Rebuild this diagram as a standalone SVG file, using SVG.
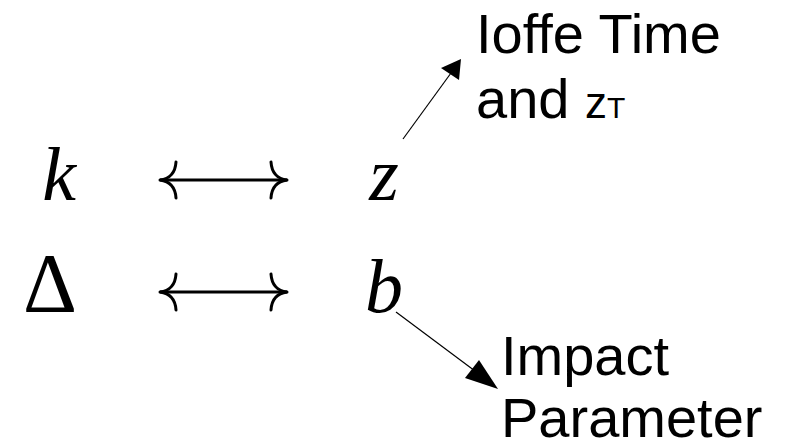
<svg xmlns="http://www.w3.org/2000/svg" width="790" height="442" viewBox="0 0 790 442">
  <style>
    .math { font-family: "Liberation Serif", "DejaVu Serif", serif; font-style: italic; font-size: 76px; fill: #000; }
    .upright { font-family: "Liberation Serif", "DejaVu Serif", serif; font-size: 84px; fill: #000; }
    .label { font-family: "Liberation Sans", Arial, sans-serif; font-size: 56px; fill: #000; }
    .dbl { fill: none; stroke: #000; stroke-width: 3; stroke-linecap: round; }
    .pointer { fill: none; stroke: #000; stroke-width: 1.2; }
    .head { fill: #000; stroke: none; }
  </style>
  <defs>
    <!-- long double-headed arrow with curved barbs -->
    <g id="longarrow">
      <path class="dbl" d="M160,0 H287"/>
      <path class="dbl" d="M176,-18 Q175,-2 160,0 Q175,2 176,18"/>
      <path class="dbl" d="M271,-18 Q272,-2 287,0 Q272,2 271,18"/>
    </g>
  </defs>

  <g id="node-k"><text class="math" x="59" y="200" text-anchor="middle">k</text></g>
  <g id="node-z"><text class="math" x="384" y="200" text-anchor="middle">z</text></g>
  <g id="node-delta"><text class="upright" x="50" y="312" text-anchor="middle">Δ</text></g>
  <g id="node-b"><text class="math" x="384" y="312" text-anchor="middle">b</text></g>

  <g id="node-ioffe">
    <text class="label" x="476" y="53">Ioffe Time</text>
    <text class="label" x="476" y="118">and <tspan font-size="44">z</tspan><tspan font-size="30">T</tspan></text>
  </g>
  <g id="node-impact">
    <text class="label" x="501" y="375">Impact</text>
    <text class="label" x="501" y="437">Parameter</text>
  </g>

  <g id="connectors">
    <use href="#longarrow" transform="translate(0,180)"/>
    <use href="#longarrow" transform="translate(0,292)"/>
    <!-- z to Ioffe Time label -->
    <path class="pointer" d="M403,139 L451,73"/>
    <polygon class="head" points="461,59 441,68 459,80"/>
    <!-- b to Impact Parameter label -->
    <path class="pointer" d="M396,312 L475,371"/>
    <polygon class="head" points="498,389 465,378 479,360"/>
  </g>
</svg>
